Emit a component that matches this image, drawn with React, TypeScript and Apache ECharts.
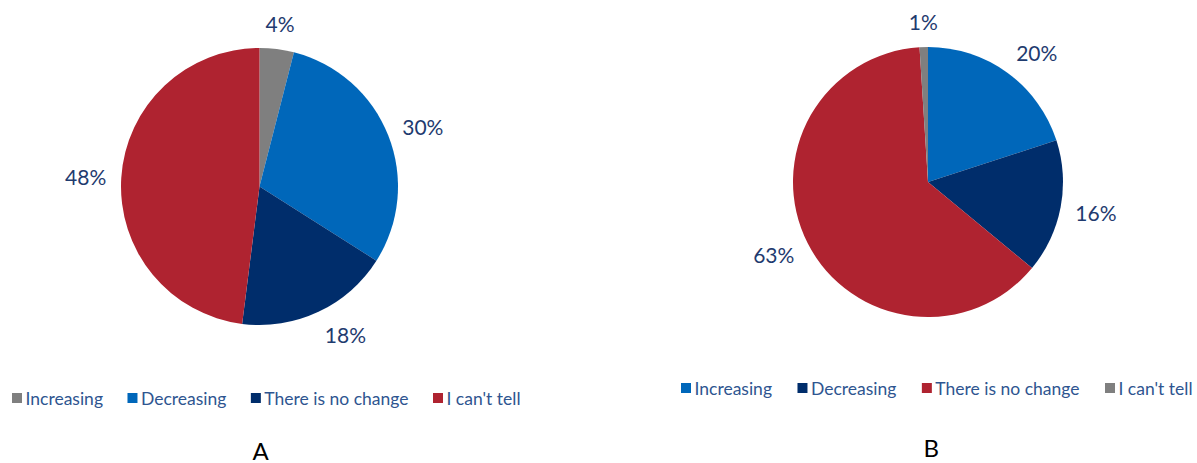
import React, { useEffect, useRef } from "react";
import * as echarts from "echarts";

const namesA = ["Increasing", "Decreasing", "There is no change", "I can't tell"];
const valuesA = [4, 30, 18, 48];
const colorsA = ["#7F7F7F", "#0067BA", "#002D6B", "#AF2330"];

const namesB = ["Increasing", "Decreasing", "There is no change", "I can't tell"];
const valuesB = [20, 16, 63, 1];
const colorsB = ["#0067BA", "#002D6B", "#AF2330", "#7F7F7F"];

const FONT = "Lato";
const LABEL_COLOR = "#1F3B6F";
const LEGEND_COLOR = "#2E5590";
const LABEL_GAP = 15;

function buildOption(
  title: string,
  names: string[],
  values: number[],
  colors: string[],
  center: [number, number],
  radius: number,
  legendLeft: number,
  legendTop: number,
  legendFont: number,
  itemGap: number,
  titleLeft: number,
  titleTop: number
) {
  const total = values.reduce((a, b) => a + b, 0);
  const midAngles: number[] = [];
  let acc = 0;
  values.forEach((v) => {
    midAngles.push(((acc + v / 2) / total) * Math.PI * 2);
    acc += v;
  });
  return {
    animation: false,
    textStyle: { fontFamily: FONT },
    title: {
      text: title,
      left: titleLeft,
      top: titleTop,
      padding: 0,
      textStyle: { fontFamily: FONT, fontSize: 24, lineHeight: 24, fontWeight: "normal", color: "#000" },
    },
    legend: {
      left: legendLeft,
      top: legendTop,
      width: 560,
      itemWidth: 10,
      itemHeight: 10,
      itemGap,
      icon: "rect",
      selectedMode: false,
      data: names,
      textStyle: { fontFamily: FONT, fontSize: legendFont, color: LEGEND_COLOR, padding: [0, 0, 0, -1.5] },
    },
    series: [
      {
        type: "pie",
        center,
        radius,
        startAngle: 90,
        clockwise: true,
        silent: true,
        data: names.map((n, i) => ({ name: n, value: values[i], itemStyle: { color: colors[i] } })),
        label: {
          show: true,
          position: "outside",
          formatter: "{c}%",
          fontFamily: FONT,
          fontSize: 21,
          color: LABEL_COLOR,
        },
        labelLine: { show: false, length: 14, length2: 0 },
        labelLayout: (params: any) => {
          const a = midAngles[params.dataIndex];
          const sx = Math.sin(a);
          const sy = -Math.cos(a);
          const hw = params.labelRect.width / 2;
          const hh = params.labelRect.height / 2;
          const d = radius + LABEL_GAP;
          const h = Math.max(0, Math.min(1, (Math.abs(sx) - 0.1) / 0.3));
          return {
            x: center[0] + sx * d + Math.sign(sx) * hw * h,
            y: center[1] + sy * d + hh * sy,
            align: "center",
            verticalAlign: "middle",
          };
        },
      },
    ],
  };
}

function PieChart({ option, style }: { option: any; style: React.CSSProperties }) {
  const ref = useRef<HTMLDivElement>(null);
  useEffect(() => {
    if (!ref.current) return;
    const chart = echarts.init(ref.current, undefined, { renderer: "svg" });
    chart.setOption(option);
    return () => chart.dispose();
  }, []);
  return <div ref={ref} style={style} />;
}

export default function App() {
  const optA = buildOption("A", namesA, valuesA, colorsA, [259.5, 186.5], 138.5, 7, 384, 17.5, 24.5, 252.5, 438);
  const optB = buildOption("B", namesB, valuesB, colorsB, [368, 182], 135, 116, 374, 17.5, 25.5, 363.5, 435);
  return (
    <div style={{ position: "fixed", left: 0, top: 0, width: 1197, height: 463, background: "#fff" }}>
      <PieChart option={optA} style={{ position: "absolute", left: 0, top: 0, width: 560, height: 463 }} />
      <PieChart option={optB} style={{ position: "absolute", left: 560, top: 0, width: 637, height: 463 }} />
    </div>
  );
}
